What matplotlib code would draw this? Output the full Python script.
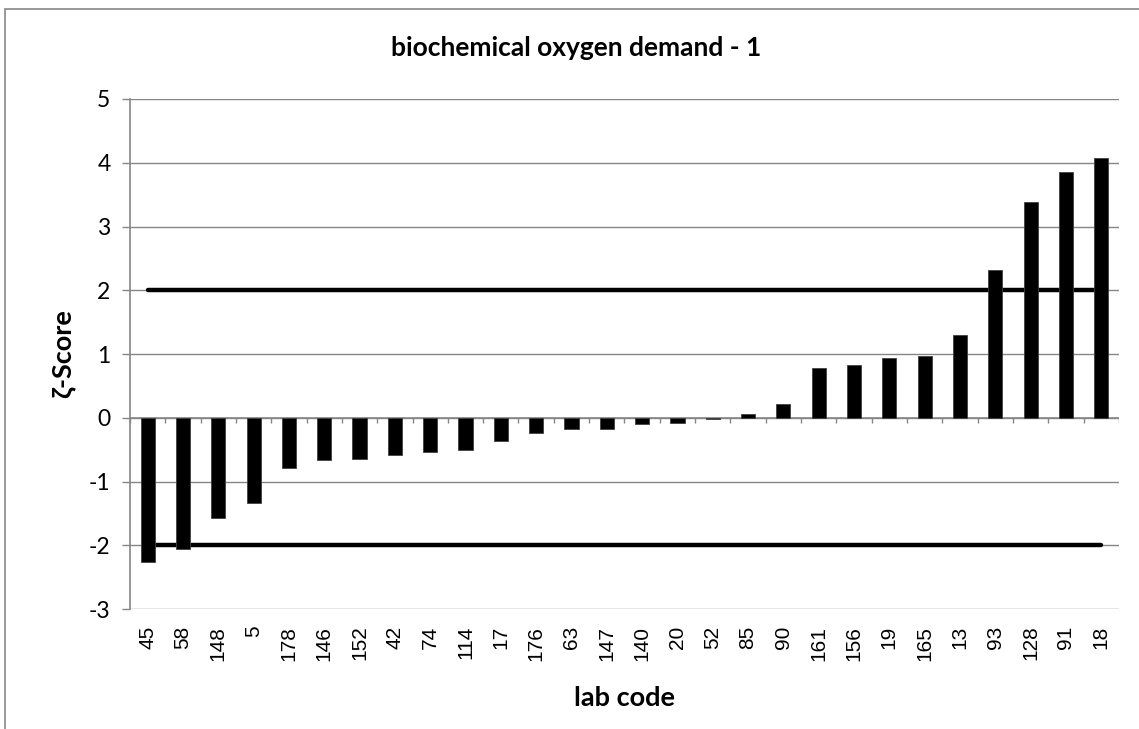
import matplotlib
matplotlib.use('Agg')
import matplotlib.pyplot as plt
from matplotlib.patches import Rectangle
import numpy as np

plt.rcParams['axes.unicode_minus'] = False

# lab codes sorted by score
labs = ['45', '58', '148', '5', '178', '146', '152', '42', '74', '114', '17', '176',
        '63', '147', '140', '20', '52', '85', '90', '161', '156', '19', '165', '13',
        '93', '128', '91', '18']
scores = [-2.27, -2.06, -1.57, -1.34, -0.79, -0.66, -0.64, -0.59, -0.54, -0.505, -0.37, -0.24,
          -0.18, -0.18, -0.10, -0.08, -0.02, 0.065, 0.21, 0.785, 0.82, 0.94, 0.97, 1.30,
          2.31, 3.38, 3.85, 4.08]
limits = [2, -2]

grey = '#868686'
x = np.arange(len(labs))

fig = plt.figure(figsize=(11.39, 7.29), dpi=100)
ax = fig.add_axes([0.1141, 0.1646, 0.8683, 0.6996])

# chart border
fig.patches.append(Rectangle((5 / 1139, -0.1), 1.2, 1 - 9 / 729 + 0.1, transform=fig.transFigure,
                             fill=False, edgecolor=grey, linewidth=1.2))

ax.set_ylim(-3, 5)
ax.set_xlim(-0.5, len(labs) - 0.5)
ax.set_yticks(range(-3, 6))
ax.yaxis.grid(True, color=grey, linewidth=1.0)
ax.set_axisbelow(True)

ax.bar(x, scores, width=0.4, color='black', edgecolor='#404040', linewidth=0.6, zorder=3)
for lim in limits:
    ax.plot([x[0], x[-1]], [lim, lim], color='black', linewidth=3.2, solid_capstyle='round', zorder=2)

# category axis at zero with ticks between categories
ax.axhline(0, color=grey, linewidth=1.2, zorder=1)
ax.vlines(np.arange(len(labs) + 1) - 0.5, -0.09, 0, color=grey, linewidth=1.0, zorder=1)

for s in ['top', 'right', 'bottom']:
    ax.spines[s].set_visible(False)
ax.spines['left'].set_color(grey)
ax.spines['left'].set_linewidth(1.2)
ax.tick_params(axis='y', direction='out', length=6, width=1, color=grey, pad=8,
               labelsize=16.5)
for t in ax.get_yticklabels():
    t.set_fontfamily('Lato')

ax.set_xticks(x)
ax.set_xticklabels(labs, rotation=90, fontsize=15, family='Liberation Sans')
ax.tick_params(axis='x', length=0, pad=12)

ax.set_xlabel('lab code', fontsize=19.5, fontweight='bold', family='Lato', labelpad=18)
ax.set_ylabel('ζ-Score', fontsize=19.5, fontweight='bold', family=['Lato', 'DejaVu Sans'], labelpad=10)
fig.text(576 / 1139, 1 - 48 / 729, 'biochemical oxygen demand - 1', ha='center', va='center',
         fontsize=19, fontweight='bold', family='Lato')

plt.savefig('out.png', dpi=100)
